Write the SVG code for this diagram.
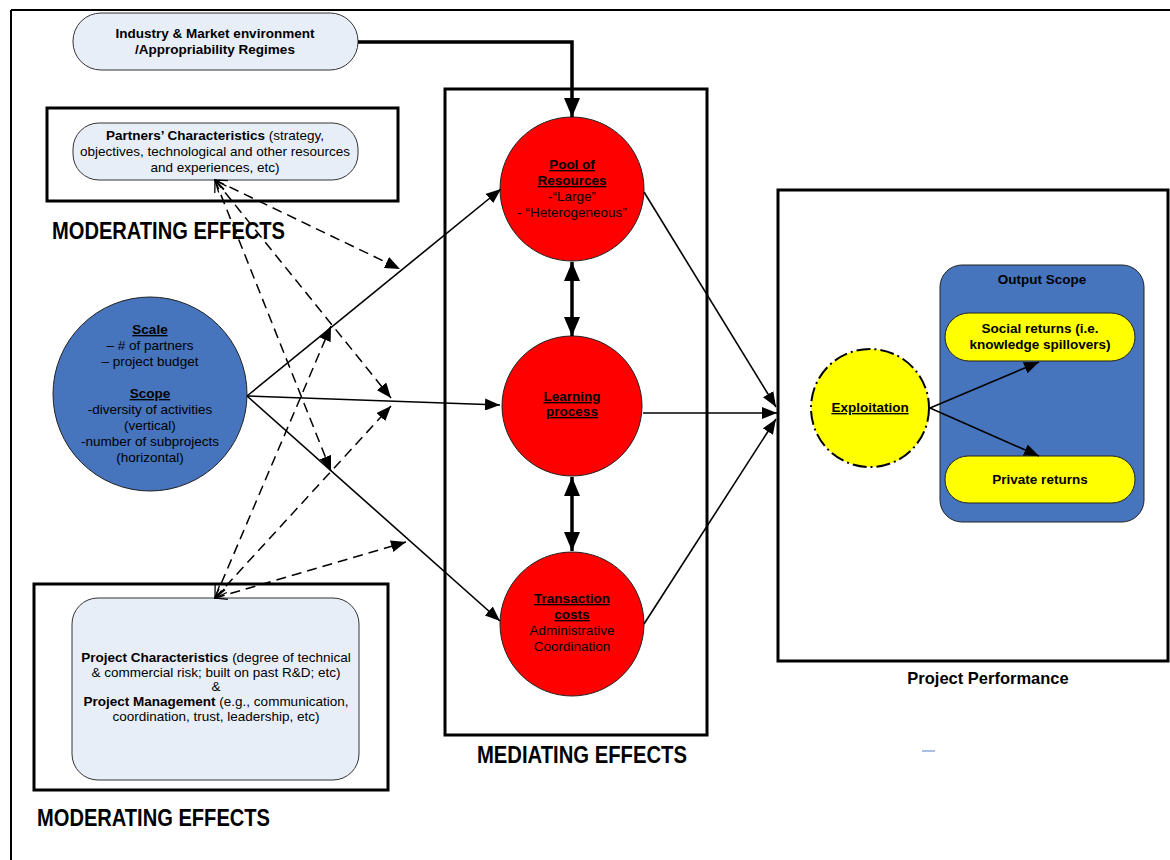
<svg xmlns="http://www.w3.org/2000/svg" width="1170" height="860" viewBox="0 0 1170 860">
<style>
text{font-family:"Liberation Sans",Arial,sans-serif;fill:#000}
.t{font-size:13.5px;text-anchor:middle}
.b{font-weight:bold}
.u{text-decoration:underline}
.big{font-size:24px;font-weight:bold}
.frame{fill:none;stroke:#000;stroke-width:3}
.pill{fill:#e8eef8;stroke:#333;stroke-width:1}
.red{fill:#ff0000;stroke:#222;stroke-width:1}
.blue{fill:#4674bd;stroke:#222;stroke-width:1}
.yel{fill:#ffff00;stroke:#222;stroke-width:1}
.thin{fill:none;stroke:#000;stroke-width:1.6;marker-end:url(#ah)}
.thick{fill:none;stroke:#000;stroke-width:3.5}
.dash{fill:none;stroke:#000;stroke-width:1.5;stroke-dasharray:10 6;marker-end:url(#ah);marker-start:url(#open)}
</style>
<defs>
<marker id="ah" markerUnits="userSpaceOnUse" markerWidth="16" markerHeight="12" refX="15" refY="6" orient="auto">
<path d="M0,0 L15,6 L0,12 Z" fill="#000"/>
</marker>
<marker id="big" markerUnits="userSpaceOnUse" markerWidth="20" markerHeight="16" refX="19" refY="8" orient="auto-start-reverse">
<path d="M0,0 L19,8 L0,16 Z" fill="#000"/>
</marker>
<marker id="open" markerUnits="userSpaceOnUse" markerWidth="14" markerHeight="12" refX="1" refY="6" orient="auto">
<path d="M13,1 L1,6 L13,11" fill="none" stroke="#000" stroke-width="1.3"/>
</marker>
</defs>

<g id="page-frame">
<line x1="11" y1="10" x2="1170" y2="10" stroke="#000" stroke-width="2"/>
<line x1="11" y1="10" x2="11" y2="860" stroke="#000" stroke-width="2"/>
</g>

<g id="containers">
<rect x="47" y="108" width="351" height="93" class="frame"/>
<rect x="445" y="89" width="262" height="646" class="frame"/>
<rect x="778" y="190" width="390" height="471" class="frame"/>
<rect x="34" y="584" width="354" height="206" class="frame"/>
<text x="52" y="238.5" class="big" textLength="233" lengthAdjust="spacingAndGlyphs">MODERATING EFFECTS</text>
<text x="477" y="763" class="big" textLength="210" lengthAdjust="spacingAndGlyphs">MEDIATING EFFECTS</text>
<text x="37" y="826" class="big" textLength="233" lengthAdjust="spacingAndGlyphs">MODERATING EFFECTS</text>
<text x="988" y="684" class="b" style="font-size:16.5px;text-anchor:middle">Project Performance</text>
<line x1="922" y1="751" x2="935" y2="751" stroke="#8eaadb" stroke-width="1.5"/>
</g>

<g id="industry">
<rect x="73" y="13" width="285" height="57" rx="28" class="pill"/>
<text x="215" y="38" class="t b">Industry &amp; Market environment</text>
<text x="215" y="54" class="t b">/Appropriability Regimes</text>
</g>

<g id="partners">
<rect x="73" y="123" width="285" height="57" rx="26" class="pill"/>
<text x="215" y="140" class="t"><tspan class="b">Partners’ Characteristics</tspan> (strategy,</text>
<text x="215" y="156" class="t">objectives, technological and other resources</text>
<text x="215" y="172" class="t">and experiences, etc)</text>
</g>

<g id="scale-scope">
<circle cx="150" cy="394" r="97" class="blue"/>
<text x="150" y="334" class="t b u">Scale</text>
<text x="150" y="350" class="t">– # of partners</text>
<text x="150" y="366" class="t">– project budget</text>
<text x="150" y="398" class="t b u">Scope</text>
<text x="150" y="414" class="t">-diversity of activities</text>
<text x="150" y="430" class="t">(vertical)</text>
<text x="150" y="446" class="t">-number of subprojects</text>
<text x="150" y="462" class="t">(horizontal)</text>
</g>

<g id="project-characteristics">
<rect x="72" y="598" width="287" height="182" rx="26" class="pill"/>
<text x="216" y="662" class="t"><tspan class="b">Project Characteristics</tspan> (degree of technical</text>
<text x="216" y="677" class="t">&amp; commercial risk; built on past R&amp;D; etc)</text>
<text x="216" y="691" class="t">&amp;</text>
<text x="216" y="706" class="t"><tspan class="b">Project Management</tspan> (e.g., communication,</text>
<text x="216" y="721" class="t">coordination, trust, leadership, etc)</text>
</g>

<g id="pool">
<circle cx="572" cy="189" r="72" class="red"/>
<text x="572" y="169" class="t b u">Pool of</text>
<text x="572" y="185" class="t b u">Resources</text>
<text x="572" y="201" class="t">-“Large”</text>
<text x="572" y="217" class="t">- “Heterogeneous”</text>
</g>

<g id="learning">
<circle cx="572" cy="406" r="70" class="red"/>
<text x="572" y="401" class="t b u">Learning</text>
<text x="572" y="416" class="t b u">process</text>
</g>

<g id="transaction">
<circle cx="572" cy="624" r="72" class="red"/>
<text x="572" y="603" class="t b u">Transaction</text>
<text x="572" y="619" class="t b u">costs</text>
<text x="572" y="635" class="t">Administrative</text>
<text x="572" y="651" class="t">Coordination</text>
</g>

<g id="output-scope">
<rect x="940" y="265" width="204" height="257" rx="22" class="blue"/>
<text x="1042" y="284" class="t b">Output Scope</text>
</g>

<g id="exploitation">
<circle cx="870" cy="408" r="59" class="yel" style="stroke:#000;stroke-width:2;stroke-dasharray:14 4 2 4"/>
<text x="870" y="412" class="t b u">Exploitation</text>
</g>

<g id="social-returns">
<rect x="945" y="313" width="190" height="48" rx="24" class="yel"/>
<text x="1040" y="333" class="t b">Social returns (i.e.</text>
<text x="1040" y="349" class="t b">knowledge spillovers)</text>
</g>

<g id="private-returns">
<rect x="945" y="456" width="190" height="47" rx="23" class="yel"/>
<text x="1040" y="484" class="t b">Private returns</text>
</g>

<g id="connectors">
<polyline points="358,42 572,42 572,117" class="thick" marker-end="url(#big)"/>
<line x1="572" y1="262" x2="572" y2="336" class="thick" marker-start="url(#big)" marker-end="url(#big)"/>
<line x1="572" y1="477" x2="572" y2="551" class="thick" marker-start="url(#big)" marker-end="url(#big)"/>
<line x1="247" y1="396" x2="501" y2="189" class="thin"/>
<line x1="247" y1="396" x2="500" y2="405" class="thin"/>
<line x1="247" y1="396" x2="500" y2="621" class="thin"/>
<line x1="644" y1="192" x2="776" y2="407" class="thin"/>
<line x1="643" y1="413" x2="777" y2="413" class="thin"/>
<line x1="644" y1="624" x2="776" y2="419" class="thin"/>
<line x1="930" y1="408" x2="1039" y2="362" class="thin"/>
<line x1="930" y1="408" x2="1039" y2="456" class="thin"/>
<line x1="215" y1="180" x2="400" y2="269" class="dash"/>
<line x1="215" y1="180" x2="391" y2="398" class="dash"/>
<line x1="215" y1="180" x2="331" y2="471" class="dash"/>
<line x1="215" y1="598" x2="331" y2="326" class="dash"/>
<line x1="215" y1="598" x2="391" y2="406" class="dash"/>
<line x1="215" y1="598" x2="406" y2="542" class="dash"/>
</g>
</svg>
